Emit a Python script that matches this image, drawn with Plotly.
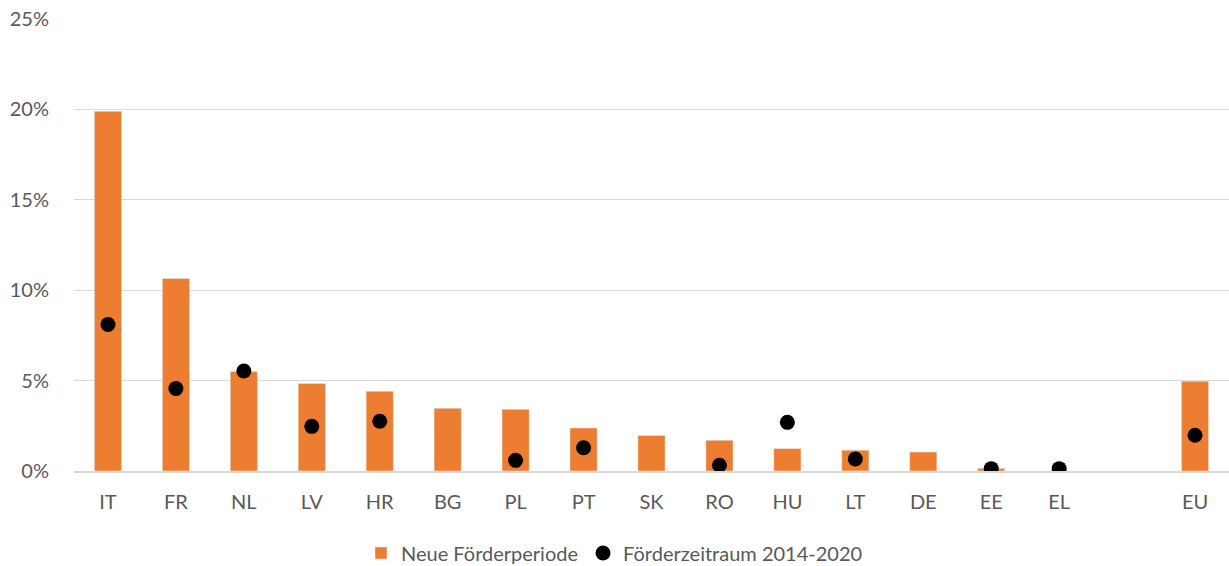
import plotly.graph_objects as go

# share in percent
countries = ["IT", "FR", "NL", "LV", "HR", "BG", "PL", "PT", "SK", "RO",
             "HU", "LT", "DE", "EE", "EL", " ", "EU"]
neue_periode = [19.9, 10.65, 5.5, 4.84, 4.41, 3.47, 3.41, 2.38, 1.97, 1.70,
                1.24, 1.15, 1.05, 0.15, 0.0, None, 4.96]
periode_2014_2020 = [8.1, 4.56, 5.53, 2.47, 2.75, None, 0.59, 1.29, None, 0.32,
                     2.69, 0.66, None, 0.13, 0.13, None, 1.98]
y_ticks = [0, 5, 10, 15, 20, 25]
y_labels = ["0%", "5%", "10%", "15%", "20%", "25%"]

ORANGE = "#ED7D31"
GREY_TEXT = "#595959"
GRID = "#D9D9D9"
FONT = "Lato, Calibri, Carlito, sans-serif"

fig = go.Figure()

fig.add_trace(go.Bar(
    x=countries,
    y=neue_periode,
    name="Neue Förderperiode",
    marker=dict(color=ORANGE),
))
fig.add_trace(go.Scatter(
    x=countries,
    y=periode_2014_2020,
    mode="markers",
    name="Förderzeitraum 2014-2020",
    marker=dict(color="black", size=15),
))

fig.update_layout(
    width=1229,
    height=566,
    margin=dict(l=74, r=0, t=19, b=95),
    paper_bgcolor="white",
    plot_bgcolor="white",
    font=dict(family=FONT, size=20, color=GREY_TEXT),
    bargap=0.6,
    showlegend=True,
    legend=dict(
        orientation="h",
        xref="container", x=0.5, xanchor="center",
        yref="container", y=0.023, yanchor="middle",
        font=dict(size=20, color=GREY_TEXT),
        itemwidth=30,
    ),
    xaxis=dict(
        type="category",
        categoryorder="array",
        categoryarray=countries,
        range=[-0.5, len(countries) - 0.5],
        showgrid=False,
        showline=True,
        linecolor=GRID,
        linewidth=2,
        ticks="outside",
        ticklen=12,
        tickcolor="rgba(0,0,0,0)",
        tickfont=dict(size=20, color=GREY_TEXT),
        automargin=False,
    ),
    yaxis=dict(
        range=[0, 25],
        tickvals=y_ticks,
        ticktext=y_labels,
        showgrid=True,
        gridcolor=GRID,
        gridwidth=1,
        zeroline=False,
        ticks="outside",
        ticklen=20,
        tickcolor="rgba(0,0,0,0)",
        tickfont=dict(size=20, color=GREY_TEXT),
        automargin=False,
    ),
)

# drop the page's default body margin so the figure sits at the window's corner
fig.write_html("out.html", config={"displayModeBar": False},
               post_script="document.body.style.margin='0';")
